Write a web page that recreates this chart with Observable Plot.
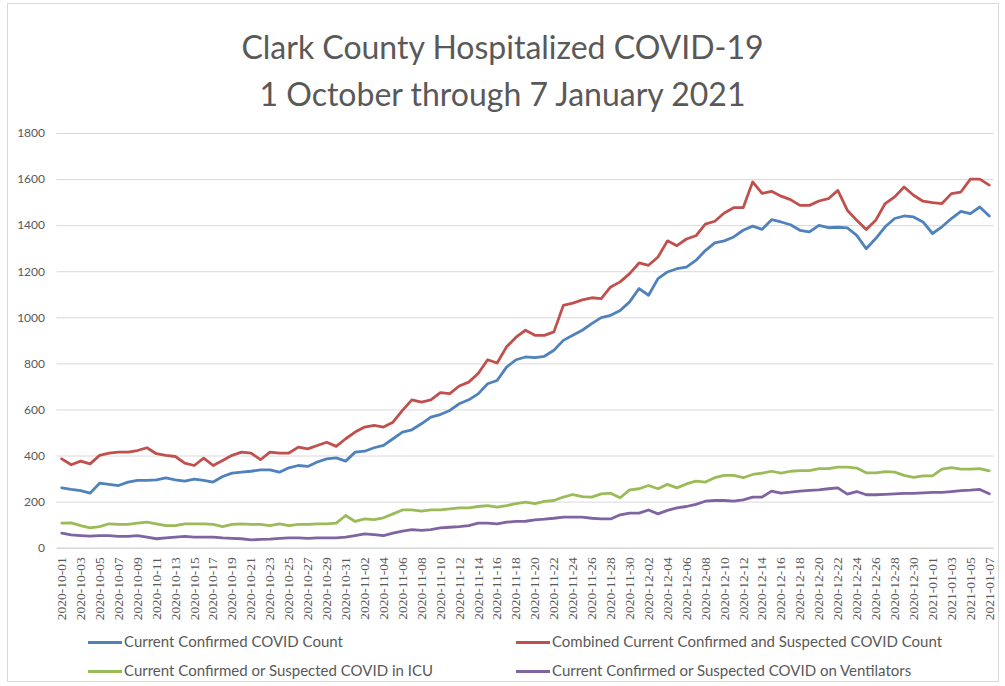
<!DOCTYPE html>
<html>
<head>
<meta charset="utf-8">
<script src="https://cdn.jsdelivr.net/npm/d3@7"></script>
<script src="https://cdn.jsdelivr.net/npm/@observablehq/plot@0.6"></script>
<style>
  html, body { margin: 0; padding: 0; background: #fff; }
  #wrap { position: relative; width: 1005px; height: 686px; overflow: hidden; font-family: Lato, "Open Sans", sans-serif; }
  #frame { position: absolute; left: 7px; top: 3px; width: 992px; height: 679px; border: 1px solid #d9d9d9; box-sizing: border-box; }
  #title { position: absolute; left: 0; top: 23px; width: 1005px; text-align: center; color: #595959; font-size: 32px; line-height: 47px; }
  #chart { position: absolute; left: 0; top: 120px; }
  #chart g[aria-label="x-axis tick label"], #chart g[aria-label="x-axis tick label"] text { font-family: "Liberation Serif", "DejaVu Serif", serif !important; }
  .leg { position: absolute; font-size: 15px; color: #595959; white-space: nowrap; line-height: 18px; }
  .sw { display: inline-block; width: 34px; height: 3px; vertical-align: middle; margin-right: 2px; position: relative; top: -1px; }
</style>
</head>
<body>
<div id="wrap">
  <div id="frame"></div>
  <div id="title">Clark County Hospitalized COVID-19<br>1 October through 7 January 2021</div>
  <div id="chart"></div>
  <div id="legend"></div>
</div>
<script>
const startDate = "2020-10-01";
const seriesNames = [
  "Current Confirmed COVID Count",
  "Combined Current Confirmed and Suspected COVID Count",
  "Current Confirmed or Suspected COVID in ICU",
  "Current Confirmed or Suspected COVID on Ventilators"
];
const seriesColors = ["#4f81bd", "#c0504d", "#9bbb59", "#8064a2"];
const yTicks = [0, 200, 400, 600, 800, 1000, 1200, 1400, 1600, 1800];

const confirmed = [262,255,250,239,282,277,272,287,294,294,297,305,297,291,300,294,287,311,326,330,
  334,340,340,330,349,359,355,374,388,392,378,417,421,436,446,475,504,514,540,569,
  580,598,627,644,670,714,728,786,818,830,827,833,859,902,924,946,975,1001,1011,1032,
  1069,1127,1098,1170,1199,1213,1220,1249,1292,1325,1334,1351,1380,1398,1384,1426,1416,1404,1380,1373,
  1401,1391,1393,1390,1358,1300,1344,1395,1431,1442,1438,1416,1366,1395,1431,1462,1452,1481,1442];
const combined = [388,362,378,366,403,413,417,417,424,436,410,403,398,369,359,391,359,381,403,417,
  413,384,417,413,413,439,431,446,460,442,475,504,526,533,526,547,598,644,634,644,
  675,671,704,721,758,818,804,874,916,946,924,924,939,1054,1064,1078,1087,1083,1134,1156,
  1192,1238,1228,1264,1334,1313,1342,1356,1407,1419,1455,1478,1478,1590,1540,1549,1528,1513,1488,1488,
  1507,1517,1553,1467,1423,1383,1423,1496,1525,1568,1532,1506,1500,1496,1539,1546,1602,1602,1576];
const icu = [109,110,98,88,94,106,103,103,109,113,106,98,98,106,106,106,103,94,103,106,
  103,103,98,106,98,103,103,106,106,109,142,116,127,124,132,149,166,166,161,166,
  166,171,175,175,181,185,178,185,193,200,193,203,207,222,233,224,222,236,239,219,
  253,258,272,258,277,262,279,291,287,306,316,316,306,320,326,334,326,334,337,337,
  345,345,352,352,348,327,327,332,330,316,307,314,314,343,350,343,343,345,336];
const ventilators = [65,58,55,52,55,55,51,51,55,48,41,45,48,51,48,48,48,45,43,41,
  36,38,39,43,45,45,43,45,45,45,48,55,62,59,55,65,74,81,77,81,
  88,91,94,98,109,109,106,113,116,117,123,126,130,135,135,135,130,127,127,145,
  152,152,166,149,164,175,181,190,204,207,207,204,210,222,222,248,239,243,248,251,
  253,258,262,235,246,232,232,234,236,238,238,240,242,242,246,250,252,255,236];

const allSeries = [confirmed, combined, icu, ventilators];
const t0 = new Date(startDate + "T00:00:00Z");
const dates = confirmed.map((_, i) => d3.utcDay.offset(t0, i));
const rows = [];
allSeries.forEach((vals, s) => vals.forEach((v, i) => rows.push({date: dates[i], value: v, series: seriesNames[s]})));
const tickDates = dates.filter((_, i) => i % 2 === 0);

const chart = Plot.plot({
  width: 1005,
  height: 508,
  marginTop: 13,
  marginBottom: 80.3,
  marginLeft: 56.5,
  marginRight: 11.5,
  style: {fontFamily: "Lato, sans-serif", background: "transparent"},
  x: {
    type: "utc",
    domain: [d3.utcHour.offset(t0, -12), d3.utcHour.offset(dates[dates.length - 1], 12)]
  },
  y: {domain: [0, 1800]},
  color: {domain: seriesNames, range: seriesColors},
  marks: [
    Plot.gridY(yTicks, {stroke: "#d9d9d9", strokeOpacity: 1}),
    Plot.ruleY([0], {stroke: "#d0d0d0"}),
    Plot.axisY(yTicks, {tickSize: 0, tickPadding: 12, label: null, fontSize: 12, fill: "#595959", tickFormat: d => String(d)}),
    Plot.axisX(tickDates, {tickSize: 0, tickPadding: 9, tickRotate: -90, tickFormat: d3.utcFormat("%Y-%m-%d"), label: null, fontSize: 13.5, fill: "#595959", fontFamily: "Liberation Serif"}),
    Plot.line(rows, {x: "date", y: "value", z: "series", stroke: "series", strokeWidth: 2.8, strokeLinejoin: "round", curve: "linear"})
  ]
});
document.getElementById("chart").appendChild(chart);

const legPos = [[88, 632], [516, 632], [88, 661], [516, 661]];
const legend = document.getElementById("legend");
seriesNames.forEach((name, i) => {
  const d = document.createElement("div");
  d.className = "leg";
  d.style.left = legPos[i][0] + "px";
  d.style.top = legPos[i][1] + "px";
  d.innerHTML = `<span class="sw" style="background:${seriesColors[i]}"></span>${name}`;
  legend.appendChild(d);
});
</script>
</body>
</html>
